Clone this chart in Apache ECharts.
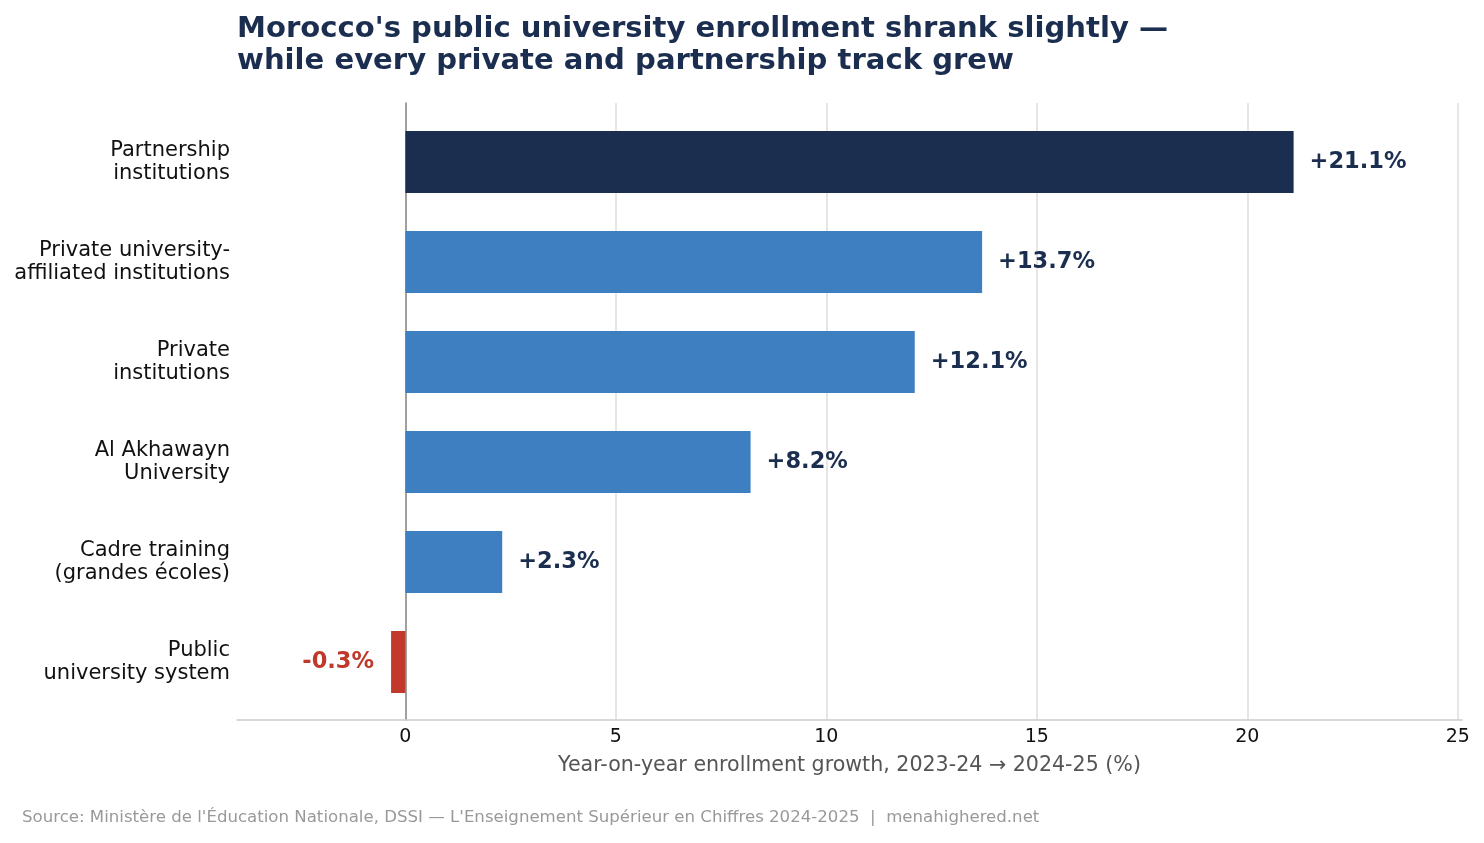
<!DOCTYPE html>
<html lang="en">
<head>
  <meta charset="UTF-8">
  <title>Morocco enrollment growth</title>
  <script src="https://cdn.jsdelivr.net/npm/echarts@6/dist/echarts.min.js"></script>
</head>
<body style="margin:0">
<div id="chart" style="width: 1484px; height: 843px"></div>
<script>
  const categories = [
    'Partnership\ninstitutions',
    'Private university-\naffiliated institutions',
    'Private\ninstitutions',
    'Al Akhawayn\nUniversity',
    'Cadre training\n(grandes écoles)',
    'Public\nuniversity system'
  ];
  const growth = [21.1, 13.7, 12.1, 8.2, 2.3, -0.34];

  const NAVY = '#1b2e50';
  const BLUE = '#3d7fc1';
  const RED = '#c0392b';
  const FONT = '"DejaVu Sans", sans-serif';

  function barItem(v, i) {
    const neg = v < 0;
    return {
      value: v,
      itemStyle: { color: neg ? RED : (i === 0 ? NAVY : BLUE) },
      label: {
        position: neg ? 'left' : 'right',
        distance: neg ? 17 : 16,
        color: neg ? RED : NAVY
      }
    };
  }

  const chart = echarts.init(document.getElementById('chart'));
  chart.setOption({
    backgroundColor: '#fff',
    animation: false,
    textStyle: { fontFamily: FONT },
    title: [
      {
        text: "Morocco's public university enrollment shrank slightly —\nwhile every private and partnership track grew",
        left: 232,
        top: 8,
        textStyle: { fontFamily: FONT, fontSize: 29.1, fontWeight: 'bold', color: NAVY, lineHeight: 32 }
      },
      {
        text: "Source: Ministère de l'Éducation Nationale, DSSI — L'Enseignement Supérieur en Chiffres 2024-2025  |  menahighered.net",
        left: 17,
        top: 804,
        textStyle: { fontFamily: FONT, fontSize: 16.6, fontWeight: 'normal', color: '#999' }
      }
    ],
    grid: [
      { left: 237, right: 22, top: 103, bottom: 123 },
      { left: 237, right: 22, top: 112, bottom: 131 }
    ],
    xAxis: [
      {
        type: 'value',
        gridIndex: 0,
        min: -4,
        max: 25.1,
        name: 'Year-on-year enrollment growth, 2023-24 → 2024-25 (%)',
        nameLocation: 'middle',
        nameGap: 35,
        nameTextStyle: { fontFamily: FONT, fontSize: 20.6, color: '#555' },
        axisLine: { show: true, onZero: false, lineStyle: { color: '#ccc', width: 1.5 } },
        axisTick: { show: false },
        axisLabel: {
          fontFamily: FONT, fontSize: 19, color: '#111', margin: 8,
          showMinLabel: false, showMaxLabel: false,
          formatter: v => (v % 5 === 0 ? String(v) : '')
        },
        splitLine: {
          show: true, showMinLine: false, showMaxLine: false,
          lineStyle: { color: '#e0ddd8', width: 1.5 }
        }
      },
      {
        type: 'value',
        gridIndex: 1,
        min: -4,
        max: 25.1,
        show: false,
        splitLine: { show: false }
      }
    ],
    yAxis: [
      {
        type: 'category',
        gridIndex: 0,
        data: [''],
        axisLine: { show: true, onZero: true, lineStyle: { color: '#888', width: 1.5 } },
        axisTick: { show: false },
        axisLabel: { show: false }
      },
      {
        type: 'category',
        gridIndex: 1,
        inverse: true,
        data: categories,
        axisLine: { show: false },
        axisTick: { show: false },
        axisLabel: {
          fontFamily: FONT, fontSize: 21, color: '#111', margin: 7,
          lineHeight: 23, align: 'right', padding: [12, 0, 0, 0]
        }
      }
    ],
    series: [
      {
        type: 'bar',
        xAxisIndex: 1,
        yAxisIndex: 1,
        barWidth: 62,
        data: growth.map(barItem),
        label: {
          show: true,
          fontFamily: FONT,
          fontSize: 22.5,
          fontWeight: 'bold',
          formatter: p => (p.value > 0 ? '+' : '') + p.value.toFixed(1) + '%'
        }
      }
    ]
  });
</script>
</body>
</html>
